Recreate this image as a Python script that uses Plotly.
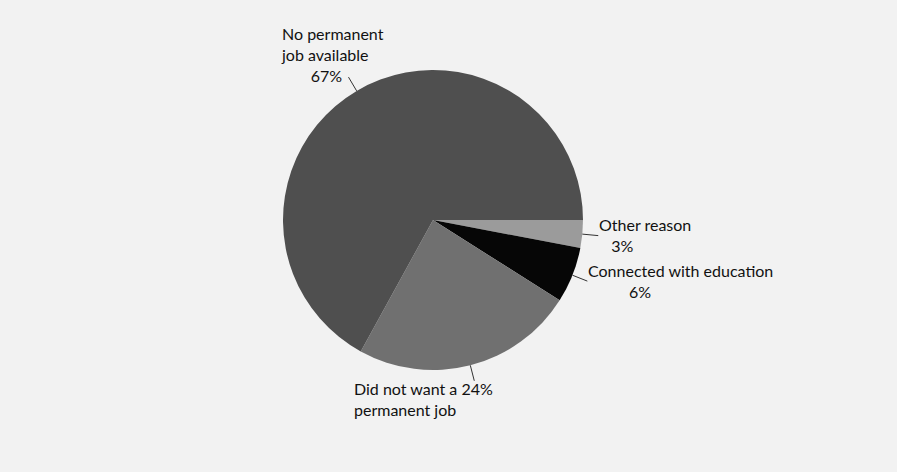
import math
import plotly.graph_objects as go

# Reasons for holding a temporary job (share of respondents, %)
reasons = ["Other reason", "Connected with education",
           "Did not want a permanent job", "No permanent job available"]
shares = [3, 6, 24, 67]
colors = ["#9b9b9b", "#060606", "#707070", "#4f4f4f"]

# Label text, line by line; leading non-breaking spaces indent a line
label_lines = [
    ["Other reason", "&nbsp;&nbsp;&nbsp;3%"],
    ["Connected with education", "&nbsp;" * 10 + "6%"],
    ["Did not want a 24%", "permanent job"],
    ["No permanent", "job available", "&nbsp;" * 7 + "67%"],
]

W, H = 897, 472
CX, CY, R = 433, 220, 150   # pie centre and radius in pixels


def px(x):
    return x / W


def py(y):
    return 1 - y / H


fig = go.Figure(go.Pie(
    labels=reasons,
    values=shares,
    sort=False,
    direction="clockwise",
    rotation=90,
    marker=dict(colors=colors, line=dict(width=0)),
    textinfo="none",
    hoverinfo="label+percent",
    domain=dict(x=[px(CX - R), px(CX + R)], y=[py(CY + R), py(CY - R)]),
    showlegend=False,
))

FONT = dict(family="Lato, sans-serif", size=16, color="#111111")

# Leader lines: radial ticks at each slice's mid-angle, from the rim outward
total = sum(shares)
start = 0.0
shapes = []
for v in shares:
    mid = start + v / total * 360 / 2
    start += v / total * 360
    a = math.radians(mid)      # clockwise from 3 o'clock
    x0, y0 = CX + R * math.cos(a), CY + R * math.sin(a)
    x1, y1 = CX + (R + 16) * math.cos(a), CY + (R + 16) * math.sin(a)
    shapes.append(dict(type="line", xref="paper", yref="paper",
                       x0=px(x0), y0=py(y0), x1=px(x1), y1=py(y1),
                       line=dict(color="#333333", width=1), layer="above"))

# Text block placement: (left x, top y) in pixels
placements = [(597, 213), (586, 259), (352, 377), (279, 22)]

annotations = []
for lines, (x, y) in zip(label_lines, placements):
    annotations.append(dict(text="<br>".join(lines), x=px(x), y=py(y),
                            xref="paper", yref="paper", align="left",
                            xanchor="left", yanchor="top", showarrow=False,
                            font=FONT))

fig.update_layout(
    width=W, height=H,
    margin=dict(l=0, r=0, t=0, b=0),
    paper_bgcolor="#f2f2f2",
    plot_bgcolor="#f2f2f2",
    shapes=shapes,
    annotations=annotations,
)

fig.write_html("out.html")
